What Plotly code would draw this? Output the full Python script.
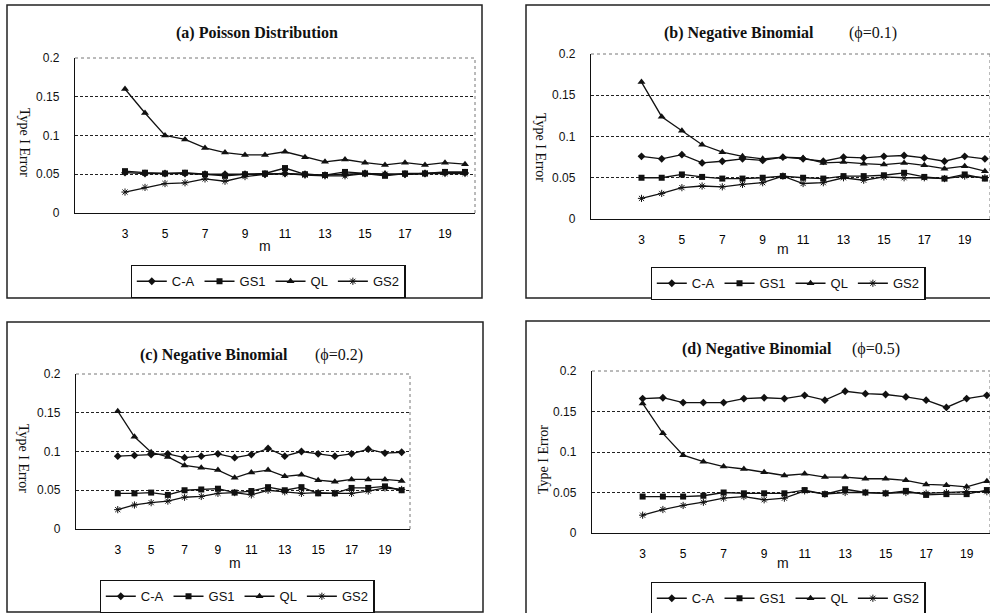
import plotly.graph_objects as go

W, H = 990, 613

m = list(range(3, 21))
m_ticks = [3, 5, 7, 9, 11, 13, 15, 17, 19]
y_ticks = [0, 0.05, 0.1, 0.15, 0.2]
y_ticktext = ["0", "0.05", "0.1", "0.15", "0.2"]
series_names = ["C-A", "GS1", "QL", "GS2"]

# (a) Poisson Distribution
a_ca = [0.052, 0.051, 0.051, 0.051, 0.050, 0.050, 0.050, 0.050, 0.051, 0.050, 0.049, 0.050, 0.051, 0.050, 0.050, 0.051, 0.052, 0.052]
a_gs1 = [0.054, 0.052, 0.051, 0.052, 0.050, 0.048, 0.050, 0.051, 0.058, 0.050, 0.049, 0.053, 0.051, 0.048, 0.051, 0.051, 0.053, 0.053]
a_ql = [0.160, 0.129, 0.100, 0.095, 0.084, 0.078, 0.075, 0.075, 0.079, 0.072, 0.066, 0.069, 0.065, 0.062, 0.065, 0.062, 0.065, 0.063]
a_gs2 = [0.027, 0.033, 0.038, 0.039, 0.044, 0.041, 0.047, 0.050, 0.051, 0.049, 0.048, 0.048, 0.051, 0.050, 0.050, 0.051, 0.051, 0.051]

# (b) Negative Binomial phi=0.1
b_ca = [0.076, 0.073, 0.078, 0.068, 0.070, 0.073, 0.071, 0.075, 0.073, 0.070, 0.075, 0.074, 0.076, 0.077, 0.074, 0.070, 0.076, 0.073]
b_gs1 = [0.050, 0.050, 0.054, 0.051, 0.049, 0.049, 0.050, 0.052, 0.050, 0.049, 0.052, 0.052, 0.053, 0.056, 0.051, 0.049, 0.054, 0.049]
b_ql = [0.166, 0.124, 0.107, 0.090, 0.081, 0.076, 0.073, 0.075, 0.074, 0.068, 0.069, 0.067, 0.066, 0.068, 0.065, 0.061, 0.064, 0.058]
b_gs2 = [0.025, 0.031, 0.038, 0.040, 0.039, 0.042, 0.044, 0.052, 0.043, 0.044, 0.050, 0.047, 0.051, 0.050, 0.050, 0.049, 0.052, 0.050]

# (c) Negative Binomial phi=0.2
c_ca = [0.094, 0.095, 0.096, 0.097, 0.092, 0.094, 0.097, 0.092, 0.096, 0.104, 0.094, 0.100, 0.097, 0.094, 0.097, 0.103, 0.098, 0.099]
c_gs1 = [0.046, 0.046, 0.047, 0.044, 0.050, 0.051, 0.052, 0.047, 0.049, 0.054, 0.050, 0.054, 0.046, 0.046, 0.053, 0.053, 0.055, 0.050]
c_ql = [0.152, 0.119, 0.099, 0.093, 0.082, 0.079, 0.076, 0.066, 0.073, 0.076, 0.068, 0.070, 0.063, 0.061, 0.064, 0.064, 0.064, 0.062]
c_gs2 = [0.025, 0.031, 0.034, 0.036, 0.041, 0.042, 0.046, 0.047, 0.044, 0.050, 0.048, 0.046, 0.047, 0.046, 0.046, 0.049, 0.053, 0.051]

# (d) Negative Binomial phi=0.5
d_ca = [0.166, 0.167, 0.161, 0.161, 0.161, 0.166, 0.167, 0.166, 0.170, 0.164, 0.175, 0.172, 0.171, 0.168, 0.164, 0.155, 0.166, 0.170]
d_gs1 = [0.045, 0.045, 0.045, 0.046, 0.050, 0.049, 0.049, 0.049, 0.053, 0.048, 0.054, 0.050, 0.049, 0.052, 0.047, 0.048, 0.048, 0.053]
d_ql = [0.160, 0.123, 0.096, 0.088, 0.082, 0.079, 0.075, 0.071, 0.073, 0.069, 0.069, 0.067, 0.067, 0.065, 0.060, 0.059, 0.057, 0.064]
d_gs2 = [0.022, 0.029, 0.034, 0.038, 0.043, 0.045, 0.041, 0.043, 0.052, 0.048, 0.050, 0.050, 0.049, 0.050, 0.049, 0.050, 0.051, 0.051]

panel_data = [
    [a_ca, a_gs1, a_ql, a_gs2],
    [b_ca, b_gs1, b_ql, b_gs2],
    [c_ca, c_gs1, c_ql, c_gs2],
    [d_ca, d_gs1, d_ql, d_gs2],
]
title_main = ["(a) Poisson Distribution", "(b) Negative Binomial",
              "(c) Negative Binomial", "(d) Negative Binomial"]
title_phi = [None, "(\u03d5=0.1)", "(\u03d5=0.2)", "(\u03d5=0.5)"]


def px_x(p):
    return p / W


def px_y(p):
    return 1 - p / H


# layout geometry in pixels (decoration only)
panels = [
    dict(plot=(75, 475, 58, 213), frame=(7, 482, 5, 298), x_hi=20.5,
         title=(257, 33, None), ylab=(25, 142, 90), mlab=(265, 246), leg=(268, 265)),
    dict(plot=(591, 990, 54, 219), frame=(526, 1000, 5, 298), x_hi=0.5 + (990 - 591) / 20.2,
         title=(662, 33, 847), ylab=(540, 147, 90), mlab=(783, 249), leg=(788, 267)),
    dict(plot=(76, 410, 374, 529), frame=(7, 483, 322, 612), x_hi=20.5,
         title=(138, 355, 313), ylab=(24, 458, 90), mlab=(235, 563), leg=(237, 580)),
    dict(plot=(592, 990, 371, 533), frame=(526, 1000, 321, 640), x_hi=0.5 + (990 - 592) / 20.25,
         title=(680, 349, 850), ylab=(543, 460, -90), mlab=(783, 563), leg=(788, 582)),
]

marker_styles = [
    dict(symbol="diamond", size=6),
    dict(symbol="square", size=6),
    dict(symbol="triangle-up", size=7),
    dict(symbol="asterisk-open", size=6, line=dict(width=1, color="#111")),
]

INK = "#111111"
SANS = "Liberation Sans, Arial, sans-serif"
SERIF = "Liberation Serif, Times New Roman, serif"

fig = go.Figure()
shapes = []
annotations = []
layout = dict(
    width=W, height=H, margin=dict(l=0, r=0, t=0, b=0, autoexpand=False),
    paper_bgcolor="white", plot_bgcolor="white", showlegend=True,
)

for i, p in enumerate(panels):
    k = "" if i == 0 else str(i + 1)
    kt = str(i + 5)  # overlay axis carrying the between-category tick marks
    xa, ya = "x" + k, "y" + k
    legname = "legend" + k
    x0, x1, y0, y1 = p["plot"]
    for j, name in enumerate(series_names):
        fig.add_trace(go.Scatter(
            x=m, y=panel_data[i][j], name=name, mode="lines+markers",
            line=dict(color=INK, width=1.3),
            marker=dict(color=INK, **marker_styles[j]),
            xaxis=xa, yaxis=ya, legend=legname,
        ))
    dom = [px_x(x0), min(1.0, px_x(x1))]
    layout["xaxis" + k] = dict(
        domain=dom, anchor=ya,
        range=[0.5, p["x_hi"]], showgrid=False, zeroline=False,
        showline=True, linecolor=INK, linewidth=1.3,
        tickmode="array", tickvals=m_ticks, ticktext=[str(v) for v in m_ticks],
        ticks="", ticklabelstandoff=9,
        tickfont=dict(family=SANS, size=12, color="#000"),
        fixedrange=True,
    )
    layout["xaxis" + kt] = dict(
        domain=dom, anchor=ya, overlaying=xa,
        range=[0.5, p["x_hi"]], showgrid=False, zeroline=False, showline=False,
        tickmode="array", tickvals=[v + 0.5 for v in range(0, 21)],
        ticktext=["" for _ in range(0, 21)],
        ticks="inside", ticklen=4, tickwidth=1, tickcolor=INK,
        showticklabels=False, fixedrange=True,
    )
    layout["yaxis" + k] = dict(
        domain=[px_y(y1), px_y(y0)], anchor=xa,
        range=[0, 0.2], zeroline=False,
        showline=True, linecolor=INK, linewidth=1.3,
        tickmode="array", tickvals=y_ticks, ticktext=y_ticktext,
        ticks="", ticklabelstandoff=12,
        showgrid=True, gridcolor="#222222", gridwidth=1.1, griddash="3px,2px",
        tickfont=dict(family=SANS, size=12, color=INK),
        fixedrange=True,
    )
    lx, ly = p["leg"]
    layout[legname] = dict(
        orientation="h", x=px_x(lx), y=px_y(ly), xanchor="center", yanchor="top",
        bordercolor=INK, borderwidth=1.3, bgcolor="white",
        font=dict(family=SANS, size=13, color=INK), itemwidth=30,
        tracegroupgap=0,
    )
    # plot-area border (top/right dotted)
    shapes.append(dict(type="line", xref=xa + " domain", yref=ya + " domain",
                       x0=0, x1=1, y0=1, y1=1, line=dict(color="#777777", width=1, dash="dot")))
    shapes.append(dict(type="line", xref=xa + " domain", yref=ya + " domain",
                       x0=1, x1=1, y0=0, y1=1, line=dict(color="#777777", width=1, dash="dot")))
    # outer frame
    fx0, fx1, fy0, fy1 = p["frame"]
    shapes.append(dict(type="rect", xref="paper", yref="paper",
                       x0=px_x(fx0), x1=px_x(fx1), y0=px_y(fy1), y1=px_y(fy0),
                       line=dict(color="#222222", width=1.5)))
    # titles
    tx, ty, phx = p["title"]
    if phx is None:
        annotations.append(dict(text="<b>" + title_main[i] + "</b>", xref="paper", yref="paper",
                                x=px_x(tx), y=px_y(ty), xanchor="center", yanchor="middle",
                                showarrow=False, font=dict(family=SERIF, size=16, color=INK)))
    else:
        annotations.append(dict(text="<b>" + title_main[i] + "</b>", xref="paper", yref="paper",
                                x=px_x(tx), y=px_y(ty), xanchor="left", yanchor="middle",
                                showarrow=False, font=dict(family=SERIF, size=16, color=INK)))
        annotations.append(dict(text=title_phi[i], xref="paper", yref="paper",
                                x=px_x(phx), y=px_y(ty), xanchor="left", yanchor="middle",
                                showarrow=False, font=dict(family=SERIF, size=16, color=INK)))
    # y title
    yx, yy, ang = p["ylab"]
    annotations.append(dict(text="Type I Error", xref="paper", yref="paper",
                            x=px_x(yx), y=px_y(yy), xanchor="center", yanchor="middle",
                            textangle=ang, showarrow=False,
                            font=dict(family=SERIF, size=14, color=INK)))
    # x title
    mx, my = p["mlab"]
    annotations.append(dict(text="m", xref="paper", yref="paper",
                            x=px_x(mx), y=px_y(my), xanchor="center", yanchor="middle",
                            showarrow=False,
                            font=dict(family=SANS, size=14, color=INK)))

layout["shapes"] = shapes
layout["annotations"] = annotations
fig.update_layout(**layout)
fig.write_html("out.html", config={"displayModeBar": False},
               post_script="document.body.style.margin='0';")
